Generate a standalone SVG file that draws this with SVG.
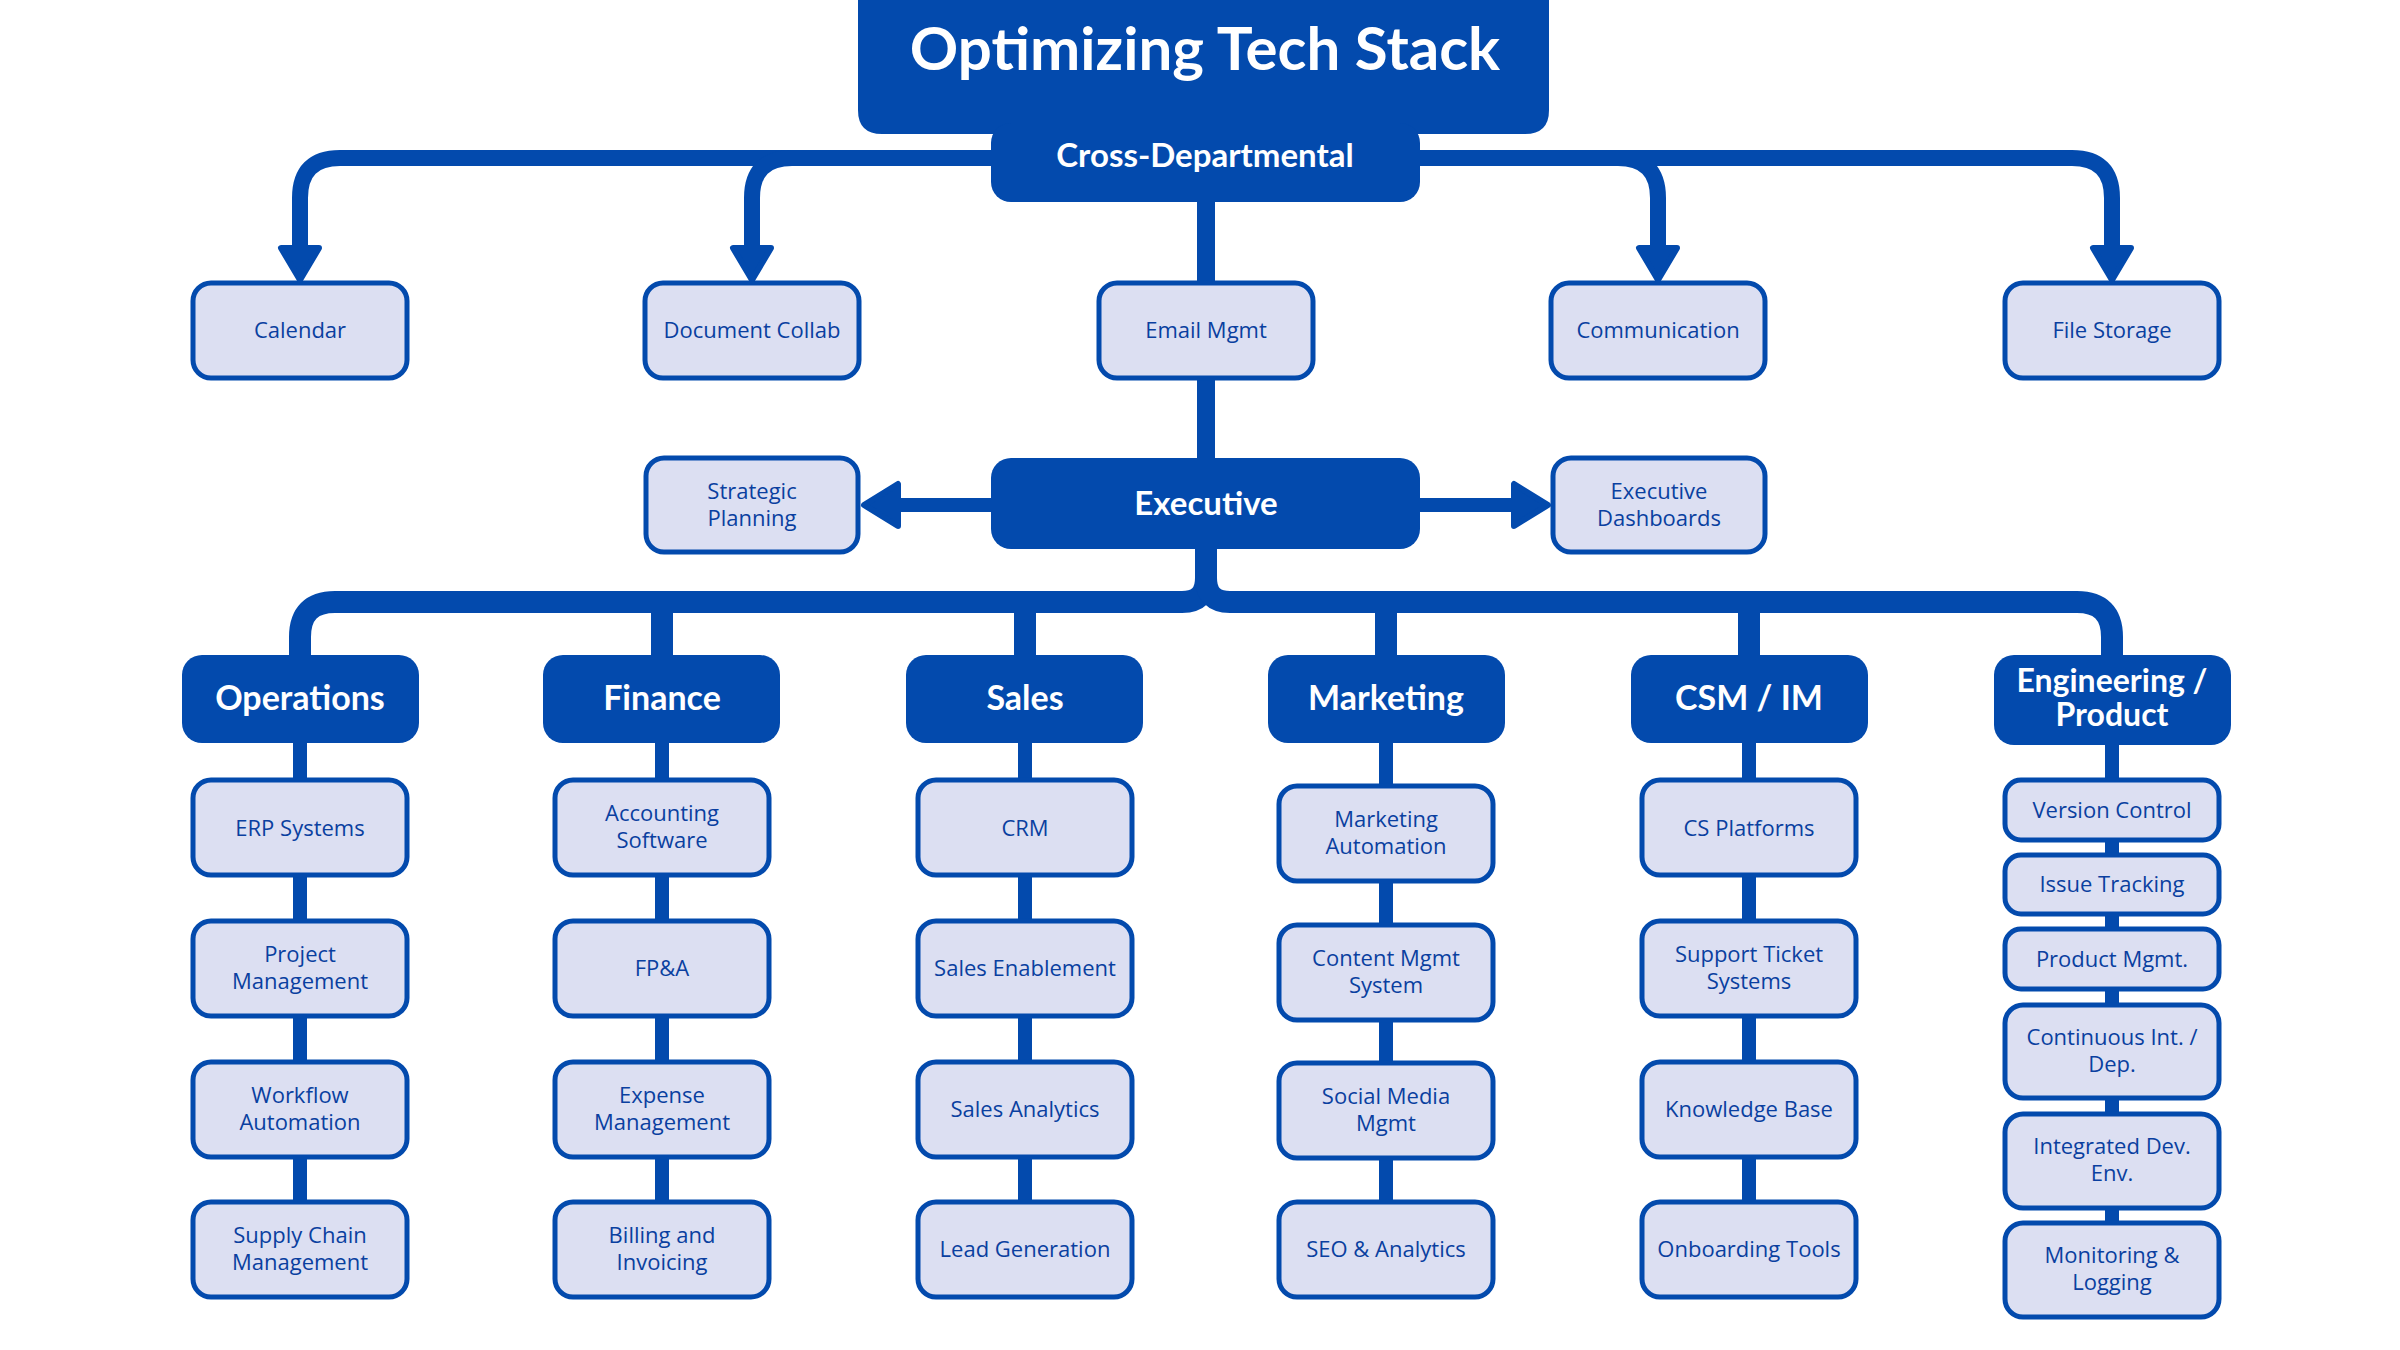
<svg xmlns="http://www.w3.org/2000/svg" width="2400" height="1350" viewBox="0 0 2400 1350">
<style>
.c{fill:none;stroke:#034AAD;stroke-linecap:butt;stroke-linejoin:round}
.a{fill:#034AAD;stroke:#034AAD;stroke-width:6;stroke-linejoin:round}
.h{fill:#034AAD}
.ht{fill:#fff;font-family:Lato,"Open Sans",sans-serif;font-weight:bold;font-size:34px;text-anchor:middle}
.b{fill:#DCDFF2;stroke:#034AAD;stroke-width:5}
.t{fill:#0A3FA0;font-family:"Open Sans",Lato,sans-serif;font-size:22px;text-anchor:middle}
</style>
<rect width="2400" height="1350" fill="#fff"/>
<g id="connectors">
<path class="c" stroke-width="16" d="M991 158 H340 Q300 158 300 198 V250"/>
<path class="c" stroke-width="16" d="M991 158 H792 Q752 158 752 198 V250"/>
<path class="c" stroke-width="16" d="M1420 158 H1618 Q1658 158 1658 198 V250"/>
<path class="c" stroke-width="16" d="M1420 158 H2072 Q2112 158 2112 198 V250"/>
<polygon class="a" points="281,248 319,248 300,280"/>
<polygon class="a" points="733,248 771,248 752,280"/>
<polygon class="a" points="1639,248 1677,248 1658,280"/>
<polygon class="a" points="2093,248 2131,248 2112,280"/>
<path class="c" stroke-width="18" d="M1206 200 V460"/>
<path class="c" stroke-width="14" d="M991 505 H895"/>
<path class="c" stroke-width="14" d="M1420 505 H1517"/>
<polygon class="a" points="898,484 898,526 864,505"/>
<polygon class="a" points="1514,484 1514,526 1548,505"/>
<path class="c" stroke-width="22" d="M1206 545 V578 Q1206 602 1182 602 H335 Q300 602 300 637 V660"/>
<path class="c" stroke-width="22" d="M1206 578 Q1206 602 1230 602 H2077 Q2112 602 2112 637 V660"/>
<path class="c" stroke-width="22" d="M662 602 V660 M1025 602 V660 M1386 602 V660 M1749 602 V660"/>
<path class="c" stroke-width="14" d="M300 740 V1205 M662 740 V1205 M1025 740 V1205 M1386 740 V1205 M1749 740 V1205 M2112 740 V1225"/>
</g>
<g id="title"><path class="h" d="M858 0 H1549 V110 Q1549 134 1525 134 H882 Q858 134 858 110 Z"/><text class="ht" x="1205" y="70" style="font-size:60px">Optimizing Tech Stack</text></g>
<g id="cross"><rect class="h" x="991" y="123" width="429" height="79" rx="20"/><text class="ht" x="1205" y="167" style="font-size:33px">Cross-Departmental</text></g>
<g id="calendar"><rect class="b" x="193" y="283" width="214" height="95" rx="18"/><text class="t" x="300" y="338">Calendar</text></g>
<g id="doccollab"><rect class="b" x="645" y="283" width="214" height="95" rx="18"/><text class="t" x="752" y="338">Document Collab</text></g>
<g id="email"><rect class="b" x="1099" y="283" width="214" height="95" rx="18"/><text class="t" x="1206" y="338">Email Mgmt</text></g>
<g id="communication"><rect class="b" x="1551" y="283" width="214" height="95" rx="18"/><text class="t" x="1658" y="338">Communication</text></g>
<g id="filestorage"><rect class="b" x="2005" y="283" width="214" height="95" rx="18"/><text class="t" x="2112" y="338">File Storage</text></g>
<g id="executive"><rect class="h" x="991" y="458" width="429" height="91" rx="20"/><text class="ht" x="1206" y="515" style="font-size:33px">Executive</text></g>
<g id="strategic"><rect class="b" x="646" y="458" width="212" height="94" rx="18"/><text class="t" x="752" y="499">Strategic</text><text class="t" x="752" y="526">Planning</text></g>
<g id="dashboards"><rect class="b" x="1553" y="458" width="212" height="94" rx="18"/><text class="t" x="1659" y="499">Executive</text><text class="t" x="1659" y="526">Dashboards</text></g>
<g id="operations"><rect class="h" x="182" y="655" width="237" height="88" rx="20"/><text class="ht" x="300" y="710">Operations</text></g>
<g id="finance"><rect class="h" x="543" y="655" width="237" height="88" rx="20"/><text class="ht" x="662" y="710">Finance</text></g>
<g id="sales"><rect class="h" x="906" y="655" width="237" height="88" rx="20"/><text class="ht" x="1025" y="710">Sales</text></g>
<g id="marketing"><rect class="h" x="1268" y="655" width="237" height="88" rx="20"/><text class="ht" x="1386" y="710">Marketing</text></g>
<g id="csm"><rect class="h" x="1631" y="655" width="237" height="88" rx="20"/><text class="ht" x="1749" y="710">CSM / IM</text></g>
<g id="engineering"><rect class="h" x="1994" y="655" width="237" height="90" rx="20"/><text class="ht" x="2112" y="692" style="font-size:32px">Engineering /</text><text class="ht" x="2112" y="726" style="font-size:32px">Product</text></g>
<g id="erp"><rect class="b" x="193" y="780" width="214" height="95" rx="18"/><text class="t" x="300" y="836">ERP Systems</text></g>
<g id="pm"><rect class="b" x="193" y="921" width="214" height="95" rx="18"/><text class="t" x="300" y="962">Project</text><text class="t" x="300" y="989">Management</text></g>
<g id="workflow"><rect class="b" x="193" y="1062" width="214" height="95" rx="18"/><text class="t" x="300" y="1103">Workflow</text><text class="t" x="300" y="1130">Automation</text></g>
<g id="supply"><rect class="b" x="193" y="1202" width="214" height="95" rx="18"/><text class="t" x="300" y="1243">Supply Chain</text><text class="t" x="300" y="1270">Management</text></g>
<g id="accounting"><rect class="b" x="555" y="780" width="214" height="95" rx="18"/><text class="t" x="662" y="821">Accounting</text><text class="t" x="662" y="848">Software</text></g>
<g id="fpa"><rect class="b" x="555" y="921" width="214" height="95" rx="18"/><text class="t" x="662" y="976">FP&amp;A</text></g>
<g id="expense"><rect class="b" x="555" y="1062" width="214" height="95" rx="18"/><text class="t" x="662" y="1103">Expense</text><text class="t" x="662" y="1130">Management</text></g>
<g id="billing"><rect class="b" x="555" y="1202" width="214" height="95" rx="18"/><text class="t" x="662" y="1243">Billing and</text><text class="t" x="662" y="1270">Invoicing</text></g>
<g id="crm"><rect class="b" x="918" y="780" width="214" height="95" rx="18"/><text class="t" x="1025" y="836">CRM</text></g>
<g id="enablement"><rect class="b" x="918" y="921" width="214" height="95" rx="18"/><text class="t" x="1025" y="976">Sales Enablement</text></g>
<g id="salesanalytics"><rect class="b" x="918" y="1062" width="214" height="95" rx="18"/><text class="t" x="1025" y="1117">Sales Analytics</text></g>
<g id="leadgen"><rect class="b" x="918" y="1202" width="214" height="95" rx="18"/><text class="t" x="1025" y="1257">Lead Generation</text></g>
<g id="mktauto"><rect class="b" x="1279" y="786" width="214" height="95" rx="18"/><text class="t" x="1386" y="827">Marketing</text><text class="t" x="1386" y="854">Automation</text></g>
<g id="cms"><rect class="b" x="1279" y="925" width="214" height="95" rx="18"/><text class="t" x="1386" y="966">Content Mgmt</text><text class="t" x="1386" y="993">System</text></g>
<g id="social"><rect class="b" x="1279" y="1063" width="214" height="95" rx="18"/><text class="t" x="1386" y="1104">Social Media</text><text class="t" x="1386" y="1131">Mgmt</text></g>
<g id="seo"><rect class="b" x="1279" y="1202" width="214" height="95" rx="18"/><text class="t" x="1386" y="1257">SEO &amp; Analytics</text></g>
<g id="csplatforms"><rect class="b" x="1642" y="780" width="214" height="95" rx="18"/><text class="t" x="1749" y="836">CS Platforms</text></g>
<g id="ticket"><rect class="b" x="1642" y="921" width="214" height="95" rx="18"/><text class="t" x="1749" y="962">Support Ticket</text><text class="t" x="1749" y="989">Systems</text></g>
<g id="kb"><rect class="b" x="1642" y="1062" width="214" height="95" rx="18"/><text class="t" x="1749" y="1117">Knowledge Base</text></g>
<g id="onboarding"><rect class="b" x="1642" y="1202" width="214" height="95" rx="18"/><text class="t" x="1749" y="1257">Onboarding Tools</text></g>
<g id="version"><rect class="b" x="2005" y="780" width="214" height="60" rx="16"/><text class="t" x="2112" y="818">Version Control</text></g>
<g id="issue"><rect class="b" x="2005" y="855" width="214" height="59" rx="16"/><text class="t" x="2112" y="892">Issue Tracking</text></g>
<g id="productmgmt"><rect class="b" x="2005" y="929" width="214" height="60" rx="16"/><text class="t" x="2112" y="967">Product Mgmt.</text></g>
<g id="cicd"><rect class="b" x="2005" y="1005" width="214" height="93" rx="18"/><text class="t" x="2112" y="1045">Continuous Int. /</text><text class="t" x="2112" y="1072">Dep.</text></g>
<g id="ide"><rect class="b" x="2005" y="1114" width="214" height="94" rx="18"/><text class="t" x="2112" y="1154">Integrated Dev.</text><text class="t" x="2112" y="1181">Env.</text></g>
<g id="monitoring"><rect class="b" x="2005" y="1223" width="214" height="94" rx="18"/><text class="t" x="2112" y="1263">Monitoring &amp;</text><text class="t" x="2112" y="1290">Logging</text></g>
</svg>
